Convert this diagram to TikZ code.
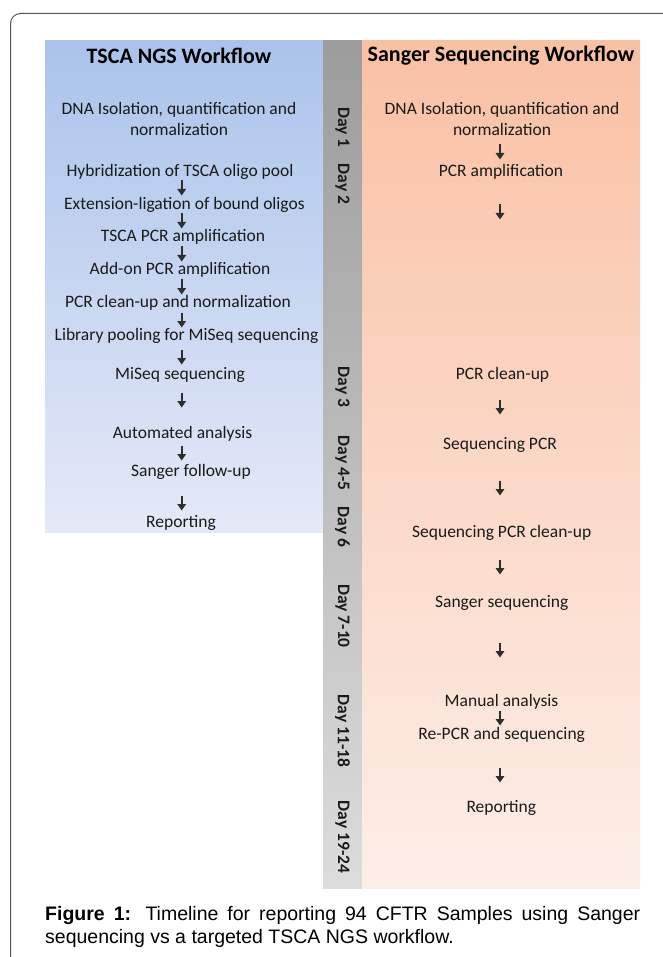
\documentclass[tikz,border=0pt]{standalone}
\usepackage{fontspec}
\setmainfont{Carlito}
\newfontfamily\capfont{Liberation Sans}
\usetikzlibrary{arrows.meta}
\definecolor{bluetop}{HTML}{AAC3EB}
\definecolor{bluebot}{HTML}{E5E9F7}
\definecolor{graytop}{HTML}{9C9C9C}
\definecolor{graybot}{HTML}{DCDCDC}
\definecolor{peachtop}{HTML}{F9C1A4}
\definecolor{peachbot}{HTML}{FDEEE8}
\definecolor{textc}{HTML}{1A1A1A}
\definecolor{arrc}{HTML}{2E2E2E}
\definecolor{framec}{HTML}{555555}
\tikzset{
  txt/.style={font=\fontsize{17.5}{21}\selectfont, text=textc, align=center, inner sep=0pt},
  hdr/.style={font=\fontsize{22}{26}\selectfont\bfseries, text=black, inner sep=0pt},
  daylbl/.style={font=\fontsize{17.5}{21}\selectfont\bfseries, rotate=-90, inner sep=0pt, text=textc},
  arr/.style={-{Triangle[width=8.5pt,length=6.5pt]}, line width=2.4pt, draw=arrc},
  darr/.pic={\draw[arr] (0,-7.5) -- (0,7.5);},
}
\begin{document}
\begin{tikzpicture}[x=1pt,y=-1pt]
\useasboundingbox (0,0) rectangle (662,957);
\fill[white] (0,0) rectangle (662,957);
% frame
\draw[framec, line width=1pt, rounded corners=10pt] (10.5,965) -- (10.5,13.5) -- (670,13.5);
% panels
\shade[top color=bluetop, bottom color=bluebot] (45,41) rectangle (323,532);
\shade[top color=graytop, bottom color=graybot] (323,41) rectangle (362,888);
\shade[top color=peachtop, bottom color=peachbot] (362,41) rectangle (640,888);
% headers
\node[hdr] (hl) at (179,56) {TSCA NGS Workflow};
\node[hdr] (hr) at (501,56) {Sanger Sequencing Workflow};
% left column
\node[txt] (l1) at (179,119) {DNA Isolation, quantification and\\normalization};
\node[txt] (l2) at (180,172) {Hybridization of TSCA oligo pool};
\node[txt] (l3) at (184.5,205) {Extension-ligation of bound oligos};
\node[txt] (l4) at (183,237) {TSCA PCR amplification};
\node[txt] (l5) at (180,270) {Add-on PCR amplification};
\node[txt] (l6) at (178,303) {PCR clean-up and normalization};
\node[txt] (l7) at (186.5,336) {Library pooling for MiSeq sequencing};
\node[txt] (l8) at (180,375) {MiSeq sequencing};
\node[txt] (l9) at (182.5,434) {Automated analysis};
\node[txt] (l10) at (191,472) {Sanger follow-up};
\node[txt] (l11) at (181,523) {Reporting};
\pic at (181.7,188) {darr};
\pic at (181.7,221) {darr};
\pic at (181.7,254) {darr};
\pic at (181.7,287) {darr};
\pic at (181.7,320) {darr};
\pic at (181.7,357) {darr};
\pic at (181.7,400) {darr};
\pic at (181.7,453) {darr};
\pic at (181.7,503) {darr};
% day labels
\node[daylbl] (d1) at (342.5,127.5) {Day 1};
\node[daylbl] (d2) at (342.5,184) {Day 2};
\node[daylbl] (d3) at (342.5,387) {Day 3};
\node[daylbl] (d4) at (342.5,463) {Day 4-5};
\node[daylbl] (d6) at (342.5,527) {Day 6};
\node[daylbl] (d7) at (342.5,616) {Day 7-10};
\node[daylbl] (d11) at (342.5,731) {Day 11-18};
\node[daylbl] (d19) at (342.5,837) {Day 19-24};
% right column
\node[txt] (r1) at (502,119) {DNA Isolation, quantification and\\normalization};
\node[txt] (r2) at (501,172) {PCR amplification};
\node[txt] (r3) at (502.5,375) {PCR clean-up};
\node[txt] (r4) at (500,445) {Sequencing PCR};
\node[txt] (r5) at (501.7,533) {Sequencing PCR clean-up};
\node[txt] (r6) at (501.7,603) {Sanger sequencing};
\node[txt] (r7) at (501.5,702) {Manual analysis};
\node[txt] (r8) at (501.7,735) {Re-PCR and sequencing};
\node[txt] (r9) at (501.3,808) {Reporting};
\pic at (500,152) {darr};
\pic at (500,212) {darr};
\pic at (500,407) {darr};
\pic at (500,488) {darr};
\pic at (500,567) {darr};
\pic at (500,650) {darr};
\pic at (500,718) {darr};
\pic at (500,775) {darr};
% caption
\node[anchor=base west, inner sep=0pt, text width=595pt, align=justify,
      font=\capfont\fontsize{19.5}{23}\selectfont, text=black] (cap) at (45,920)
  {\hyphenpenalty=10000\exhyphenpenalty=10000\textbf{Figure 1:} Timeline for reporting 94 CFTR Samples using Sanger\linebreak sequencing vs a targeted TSCA NGS workflow.};
\end{tikzpicture}
\end{document}
